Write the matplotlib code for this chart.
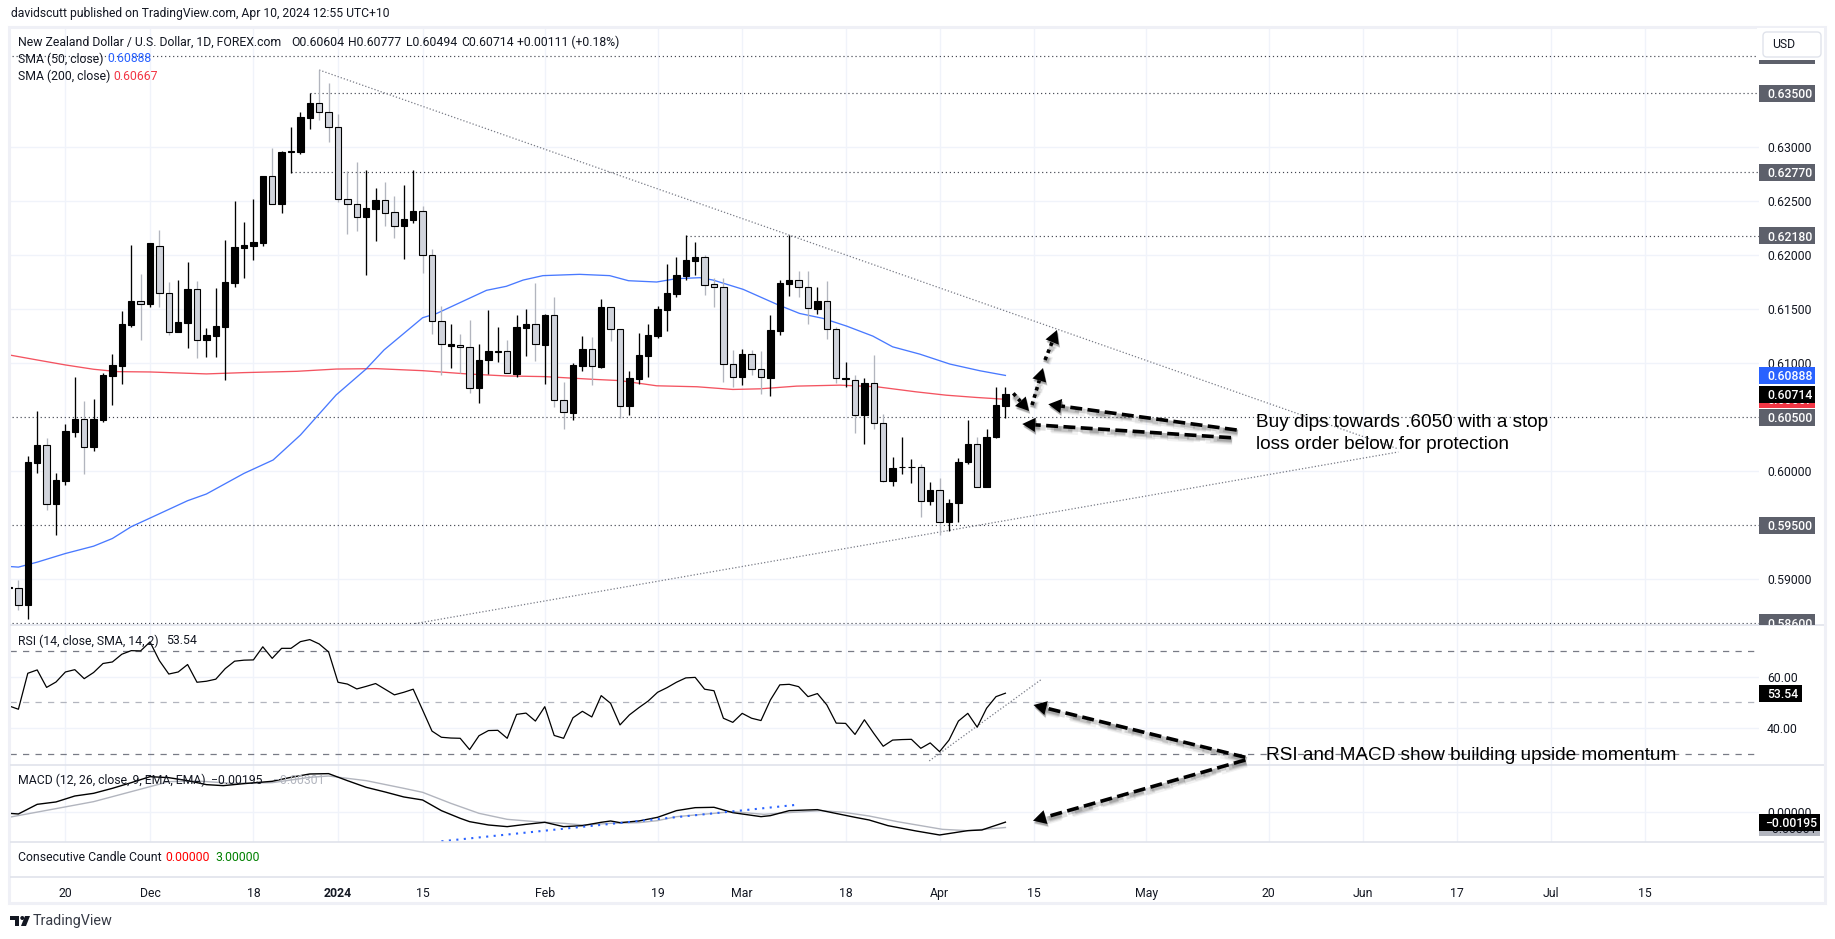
import numpy as np
import matplotlib
matplotlib.use("Agg")
import matplotlib.pyplot as plt
from matplotlib.patches import Rectangle, Polygon, Circle, FancyBboxPatch

plt.rcParams['font.family'] = ['Roboto', 'DejaVu Sans']

# ---------- data ----------
opens = [.58920,.58915,.58763,.60077,.60244,.59697,.59910,.60364,.60485,.60225,
 .60475,.60883,.60976,.61352,.61575,.61547,.62091,.61655,.61291,.61374,
 .61692,.61213,.61250,.61337,.61742,.62066,.62085,.62113,.62734,.62477,
 .62959,.62956,.63271,.63410,.63324,.63185,.62517,.62471,.62357,.62431,
 .62508,.62397,.62270,.62326,.62406,.62000,.61388,.61163,.61166,.61147,
 .60776,.61027,.61104,.61110,.60903,.61329,.61360,.61172,.61444,.60656,
 .60542,.60977,.61129,.60968,.61518,.61314,.60606,.60857,.61070,.61252,
 .61497,.61645,.61808,.61951,.61981,.61731,.61703,.60990,.60875,.61082,
 .60943,.60866,.61302,.61737,.61768,.61703,.61506,.61574,.61314,.60857,
 .60847,.60526,.60817,.60443,.59911,.60038,.60038,.60044,.59726,.59831,
 .59531,.59707,.60084,.60257,.59856,.60316,.60604]
highs = [.58961,.58992,.60142,.60559,.60308,.59984,.60438,.60874,.60651,.60670,
 .60911,.61087,.61486,.62094,.61825,.62113,.62233,.61751,.61770,.61936,
 .61760,.61325,.61702,.62140,.62502,.62307,.62520,.62734,.62993,.62965,
 .63188,.63327,.63500,.63716,.63596,.63308,.62780,.62863,.62789,.62622,
 .62678,.62548,.62650,.62789,.62456,.62059,.61530,.61363,.61271,.61401,
 .61178,.61493,.61336,.61215,.61447,.61503,.61744,.61456,.61614,.60826,
 .60999,.61252,.61243,.61595,.61518,.61314,.60928,.61280,.61363,.61530,
 .61920,.61985,.62188,.62124,.62003,.61787,.61787,.61122,.61132,.61122,
 .61113,.61447,.61768,.62188,.61855,.61855,.61706,.61762,.61333,.61008,
 .60891,.60863,.61076,.60529,.60131,.60316,.60112,.60066,.59899,.59936,
 .59741,.60121,.60474,.60316,.60390,.60779,.60777]
lows = [.58899,.58714,.58631,.59984,.59641,.59409,.59873,.60318,.59975,.60188,
 .60457,.60614,.60809,.61334,.61213,.61519,.61519,.61260,.61291,.61139,
 .61050,.61056,.61056,.60843,.61705,.61788,.61955,.62085,.62477,.62391,
 .62761,.62938,.63169,.63253,.63049,.62493,.62196,.62224,.61816,.62131,
 .62270,.62159,.61964,.62295,.61839,.61271,.60894,.60956,.60906,.60727,
 .60631,.60900,.61011,.60906,.60875,.61067,.61024,.60807,.60597,.60390,
 .60474,.60928,.60798,.60956,.61206,.60498,.60520,.60807,.60872,.61237,
 .61302,.61614,.61771,.61818,.61632,.61521,.60826,.60779,.60798,.60888,
 .60715,.60696,.61261,.61623,.61614,.61363,.61456,.61224,.60817,.60783,
 .60356,.60251,.60390,.59899,.59862,.59973,.59890,.59574,.59686,.59408,
 .59445,.59528,.60066,.59859,.59856,.60307,.60494]
closes = [.58930,.58763,.60086,.60244,.59700,.59919,.60373,.60485,.60228,.60485,
 .60892,.60985,.61365,.61575,.61550,.62113,.61655,.61291,.61380,.61692,
 .61220,.61260,.61343,.61751,.62076,.62094,.62122,.62734,.62477,.62956,
 .62965,.63281,.63410,.63324,.63185,.62517,.62471,.62357,.62434,.62508,
 .62394,.62276,.62332,.62406,.62000,.61388,.61175,.61175,.61147,.60776,
 .61027,.61110,.61110,.60906,.61333,.61363,.61175,.61444,.60656,.60545,
 .60980,.61129,.60971,.61518,.61314,.60609,.60860,.61073,.61258,.61500,
 .61648,.61815,.61954,.61981,.61728,.61703,.60990,.60878,.61082,.60943,
 .60869,.61305,.61740,.61768,.61703,.61509,.61574,.61314,.60860,.60860,
 .60526,.60817,.60443,.59914,.60035,.60044,.60044,.59729,.59831,.59534,
 .59710,.60090,.60257,.59859,.60322,.60613,.60714]

sma50_bars = [0,1,3,6,9,11,13,15,19,21,25,28.1,31,34.8,38,39.9,44,45.5,50.8,52.9,54.7,56.8,
              60.7,63.9,65.9,68.9,71,73.5,74.9,78.1,81.7,84.1,86.6,89.1,91.9,94,96.9,100.1,103.3,106]
sma50_vals = [.59119,.59113,.59159,.59239,.59307,.59378,.59487,.59567,.59728,.59790,.59981,.60105,
              .60336,.60707,.60948,.61124,.61422,.61462,.61676,.61713,.61771,.61812,.61824,.61812,
              .61765,.61753,.61784,.61793,.61771,.61685,.61546,.61462,.61416,.61345,.61252,.61153,
              .61085,.60993,.60931,.60888]
sma200_bars = [0,3,6,9,11.6,15,19,21,25,30.6,34.8,39,44,48.7,52.9,57,62.1,65,68.9,73.2,77,79.9,
               83.8,88.4,92.3,96.5,99.7,102.9,106]
sma200_vals = [.61078,.61031,.60985,.60945,.60923,.60920,.60908,.60902,.60914,.60926,.60947,.60951,
               .60932,.60902,.60883,.60877,.60852,.60840,.60792,.60783,.60758,.60764,.60789,.60798,
               .60783,.60736,.60705,.60684,.60667]

rsi_vals = [48.6,47.3,61.3,62.6,55.8,57.9,61.8,62.7,59.2,61.6,65.1,65.7,68.7,70.1,70.0,73.5,66.2,61.0,61.8,
            64.7,57.8,58.2,59.0,63.1,66.0,66.4,66.5,71.6,67.1,71.0,71.0,73.6,74.4,72.7,69.6,57.8,57.1,55.2,
            56.2,57.3,55.1,52.9,53.9,55.1,47.0,38.8,36.4,36.1,36.0,31.6,37.0,39.0,39.1,36.0,45.3,45.8,42.7,
            48.3,37.1,36.0,44.0,46.5,44.3,52.6,49.6,41.2,45.1,47.9,50.5,53.9,55.7,57.8,59.5,59.7,55.1,54.5,
            43.8,42.2,45.7,43.8,42.9,50.9,56.8,57.0,56.1,52.2,53.4,49.0,41.9,41.8,37.5,43.2,37.9,32.9,35.3,
            35.5,35.6,32.1,34.2,30.8,35.3,42.7,45.7,40.3,47.7,52.2,53.54]

macd_bars = [0,1,3,5,7,9,11,13,15,17,19,21,22.8,25,28,30,32,34,36,38,40,42,44,46,48,49,51,53,55,57,59,
             61,63,64,65,67,69,71,73,75,77,80,81,83,86,90,91.5,93.5,96.5,99,102,103.5,106]
macd_vals = [-.00020,-.00033,.00158,.00205,.00323,.00376,.00475,.00587,.00706,.00686,.00627,.00548,.00528,
             .00568,.00614,.00693,.00759,.00766,.00627,.00495,.00403,.00304,.00244,.00033,-.00119,-.00185,
             -.00251,-.00284,-.00238,-.00198,-.00284,-.00264,-.00198,-.00172,-.00205,-.00172,-.00099,.00033,
             .00092,.00099,-.00007,-.00086,-.00066,.00033,.00053,-.00099,-.00152,-.00264,-.00370,-.00449,
             -.00363,-.00350,-.00195]
signal_bars = [0,5,9,13,17,20,23.7,28,32,34,38,42,44,47,50,53,56,59,61,64,67,69,71,73,77,80.3,83.4,86.4,
               88.8,91.5,94.5,99.3,102,106]
signal_vals = [-.00099,.00073,.00211,.00409,.00607,.00620,.00574,.00587,.00693,.00719,.00627,.00475,.00396,
               .00178,-.00020,-.00139,-.00185,-.00218,-.00251,-.00218,-.00205,-.00165,-.00086,-.00053,.00013,
               -.00040,.00000,.00033,.00000,-.00073,-.00185,-.00337,-.00363,-.00301]

tick_bars = [6,15,26,35,44,57,69,78,89,99,109,121,134,144,154,164,174]
tick_labels = ['20','Dec','18','2024','15','Feb','19','Mar','18','Apr','15','May','20','Jun','17','Jul','15']
price_ticks = [.63,.625,.62,.615,.61,.60,.59]
level_prices = [.635,.6277,.6218,.605,.595,.586]
level_starts = [32,30,72,-1,-1,-1]
top_level = .6385
down_trend = ([33,147.8],[.63716,.60207])
up_trend = ([43.2,147.8],[.5859,.60179])
rsi_trend = ([97.9,109.9],[27.2,59.1])
macd_trend = ([46,83.6],[-.00574,.00145])

INK='#131722'; GRID='#f0f3fa'; GRAY='#d1d4dc'; WICK='#b2b5be'; BORDER='#e0e3eb'
BLUE='#2962ff'; RED='#f23645'; LVL='#5d606b'; DOT='#434651'

W,H=1835,939
fig=plt.figure(figsize=(W/100,H/100),dpi=100,facecolor='white')

L,R=10,1759
def pane(top,bot):
    return fig.add_axes([L/W,1-bot/H,(R-L)/W,(bot-top)/H])
ax=pane(28,625); ar=pane(625,765.3); am=pane(765.3,842.3); ac=pane(842.3,876.5)
ax.set_ylim(.58577,.64105); ar.set_ylim(25.49,80.08); am.set_ylim(-.00594,.00931); ac.set_ylim(0,1)
for a in (ax,ar,am,ac):
    a.set_xlim((L-9)/9.4,(R-9)/9.4)
    for s in a.spines.values(): s.set_visible(False)
    a.set_xticks(tick_bars)
    a.tick_params(length=0,labelbottom=False,labelleft=False)
    a.set_axisbelow(True)
for a in (ax,ar,am):
    a.grid(True,color=GRID,lw=1.0)
    a.yaxis.tick_right()
ac.set_yticks([])
ac.tick_params(axis='x',labelbottom=True,pad=7.5,labelsize=8.8,labelcolor=INK)
ac.set_xticklabels(tick_labels)
for t,l in zip(ac.get_xticklabels(),tick_labels):
    if l=='2024': t.set_fontweight('bold')

ax.set_yticks(price_ticks); ax.set_yticklabels([f'{p:.5f}' for p in price_ticks])
ar.set_yticks([60,40]); ar.set_yticklabels(['60.00','40.00'])
am.set_yticks([0]); am.set_yticklabels(['0.00000'])
for a in (ax,ar,am):
    a.tick_params(axis='y',labelright=True,pad=5.8,labelsize=8.8,labelcolor=INK)

# levels and trendlines
for p,s in zip(level_prices+[top_level],level_starts+[-1]):
    ax.plot([s,200],[p,p],color=DOT,lw=0.85,ls=(0,(1,2.4)),zorder=2,scalex=False,scaley=False)
for xs,ys in (down_trend,up_trend):
    ax.plot(xs,ys,color='#787b86',lw=0.9,ls=(0,(1,1.6)),zorder=2)

# moving averages
ax.plot(sma200_bars,sma200_vals,color=RED,lw=0.95,alpha=.85,zorder=2.5)
ax.plot(sma50_bars,sma50_vals,color=BLUE,lw=0.95,alpha=.85,zorder=2.5)

# candles
bars=np.arange(len(closes))
o,h,l,c=map(np.array,(opens,highs,lows,closes))
up=c>=o
ax.vlines(bars[up],l[up],h[up],color='black',lw=0.95,zorder=3)
ax.vlines(bars[~up],l[~up],h[~up],color=WICK,lw=0.95,zorder=3)
ax.bar(bars[up],(c-o)[up],bottom=o[up],width=.68,color='black',edgecolor='black',lw=.8,zorder=4)
ax.bar(bars[~up],(c-o)[~up],bottom=o[~up],width=.66,color=GRAY,edgecolor='black',lw=.8,zorder=4)

# RSI
for v,col in ((70,'#787b86'),(50,'#b2b5be'),(30,'#787b86')):
    ar.axhline(v,color=col,lw=.9,ls=(0,(5,5)),zorder=2)
ar.plot(bars,rsi_vals,color='black',lw=.9,zorder=3)
ar.plot(*rsi_trend,color='#787b86',lw=.9,ls=(0,(1,1.6)),zorder=2)

# MACD
am.plot(signal_bars,signal_vals,color='#b2b5be',lw=1.0,zorder=3)
am.plot(macd_bars,macd_vals,color='black',lw=1.0,zorder=4)
am.plot(*macd_trend,color=BLUE,lw=1.5,ls=(0,(1,2.6)),zorder=5)

# ---------- overlay in pixel coordinates ----------
ov=fig.add_axes([0,0,1,1],zorder=10); ov.set_xlim(0,W); ov.set_ylim(H,0); ov.axis('off')

ov.add_patch(Rectangle((8.5,26.5),1816.5,876.5,fill=False,ec='#eff0f6',lw=2.2))
for y in (625,765.3,842.3,876.5):
    ov.plot([10,1824],[y,y],color=BORDER,lw=1.2,solid_capstyle='butt')

def ypx(a,v):
    return H-a.transData.transform((0,v))[1]

def box(a,v,txt,bg,fg,w,top,bot,weight='medium',tx=1767):
    y=ypx(a,v)
    clip=Rectangle((1750,top),80,bot-top,transform=ov.transData)
    r=Rectangle((1759,y-8.5),w,17,fc=bg,ec='none',zorder=5)
    ov.add_patch(r); r.set_clip_path(clip)
    if txt:
        t=ov.text(tx,y,txt,color=fg,fontsize=8.8,va='center_baseline',ha='left',weight=weight,zorder=5,clip_on=True)
        t.set_clip_path(clip)

M=(28,625)
box(ax,top_level,'',LVL,'white',56,*M)
for p in level_prices:
    box(ax,p,f'{p:.5f}',LVL,'white',56,*M)
box(ax,.60667,'0.60667',RED,'white',56,*M)
box(ax,.60714,'0.60714','black','white',56,*M)
box(ax,.60888,'0.60888',BLUE,'white',56,*M)
box(ar,53.54,'53.54','black','white',43,625,765.3)
box(am,-.00301,'\u22120.00301',WICK,INK,61,765.3,842.3,weight='normal',tx=1765)
box(am,-.00195,'\u22120.00195','black','white',61,765.3,842.3,tx=1765)

# USD button
ov.add_patch(Rectangle((1757,28),67,32,fc='white',ec='none',zorder=5.5))
ov.add_patch(FancyBboxPatch((1763,32),58,25,boxstyle='round,pad=0,rounding_size=4',fc='white',ec=BORDER,lw=1,zorder=6))
ov.text(1772,44.5,'USD',fontsize=8.8,color=INK,va='center',zorder=7)

def txt(x,y,s,col=INK,fs=8.8,**k):
    ov.text(x,y,s,color=col,fontsize=fs,va='center',ha='left',zorder=8,**k)

txt(11,13,'davidscutt published on TradingView.com, Apr 10, 2024 12:55 UTC+10',fs=8.7)
txt(18,42,'New Zealand Dollar / U.S. Dollar, 1D, FOREX.com')
txt(291,42,'O0.60604'); txt(348,42,'H0.60777'); txt(406,42,'L0.60494'); txt(461,42,'C0.60714'); txt(517,42,'+0.00111 (+0.18%)')
txt(18,59,'SMA (50, close)'); txt(107,59,'0.60888',BLUE)
txt(18,76,'SMA (200, close)'); txt(113.5,76,'0.60667',RED)
txt(18,641,'RSI (14, close, SMA, 14, 2)'); txt(166,641,'53.54')
txt(18,780.7,'MACD (12, 26, close, 9, EMA, EMA)'); txt(211,780.7,'\u22120.00195'); txt(273,780.7,'\u22120.00301',WICK)
txt(18,857.7,'Consecutive Candle Count'); txt(165.6,857.7,'0.00000','#ff0000'); txt(215,857.7,'3.00000','#008000')

# notes on the chart
ov.text(1256,422.5,'Buy dips towards .6050 with a stop',family=['Liberation Sans'],fontsize=13.65,color='black',va='center',zorder=8)
ov.text(1256,444.5,'loss order below for protection',family=['Liberation Sans'],fontsize=13.65,color='black',va='center',zorder=8)
ov.text(1266,756,'RSI and MACD show building upside momentum',family=['Liberation Sans'],fontsize=13.7,color='black',va='center',zorder=8)

def arrow(x0,y0,x1,y1,style='dash',lw=2.6,head=13):
    dx,dy=x1-x0,y1-y0; n=np.hypot(dx,dy); ux,uy=dx/n,dy/n
    bx,by=x1-ux*head,y1-uy*head
    ls=(0,(3.3,1.5)) if style=='dash' else (0,(1,1.1))
    tri=[(x1,y1),(bx-uy*head*.55,by+ux*head*.55),(bx+uy*head*.55,by-ux*head*.55)]
    for off,a,w in ((3.5,.05,3.2),(3,.08,2.2),(2.5,.12,1.4),(2,.14,.6)):
        ov.plot([x0+off*.4,bx+off*.4],[y0+off,by+off],color='black',alpha=a,lw=lw+w,ls=ls,zorder=7,dash_capstyle='butt')
        ov.add_patch(Polygon([(px+off*.4,py+off) for px,py in tri],fc='black',alpha=a,ec='none',zorder=7))
    ov.plot([x0,bx],[y0,by],color='black',lw=lw,ls=ls,zorder=7.5,dash_capstyle='butt')
    ov.add_patch(Polygon(tri,fc='black',ec='none',zorder=7.5))

arrow(1013.3,393.3,1029,411,'dot')
arrow(1032,405,1043,368,'dot')
arrow(1045,360,1057,330,'dot')
arrow(1236.7,430,1048.3,404.3)
arrow(1231,437.7,1022.3,424)
arrow(1245.3,757.3,1033.5,705)
arrow(1245.3,760,1033,820.7)

# TradingView mark
ov.add_patch(Rectangle((10,916),9,4,fc=INK,ec='none'))
ov.add_patch(Rectangle((14.5,916),4.5,10,fc=INK,ec='none'))
ov.add_patch(Circle((22.3,918),2,fc=INK,ec='none'))
ov.add_patch(Polygon([(25,916),(30,916),(26,926),(21,926)],fc=INK,ec='none'))
txt(33,921,'TradingView','#363a45',fs=10.4)

fig.savefig('out.png',dpi=100,facecolor='white')
